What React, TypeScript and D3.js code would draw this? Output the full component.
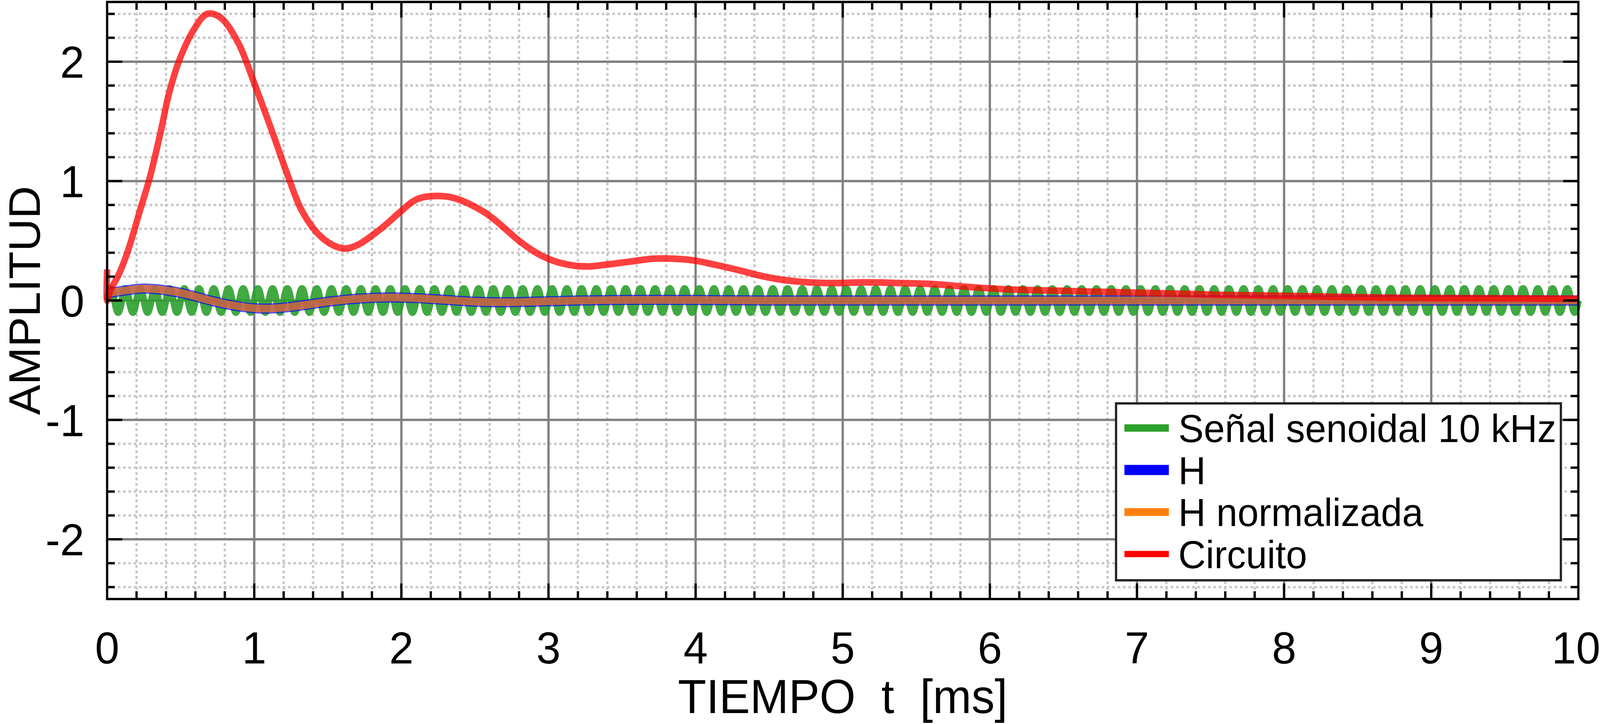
import React from 'react';
import * as d3 from 'd3';

// Tiempo [ms] / amplitud
const circuitT = [0, 0, 0.02, 0.08, 0.14, 0.22, 0.29, 0.36, 0.42, 0.49, 0.59, 0.68, 0.77, 0.89, 1.0, 1.12, 1.23, 1.32, 1.44, 1.54, 1.62, 1.71, 1.88, 1.99, 2.11, 2.27, 2.38, 2.55, 2.63, 2.72, 2.81, 2.93, 3.04, 3.16, 3.27, 3.39, 3.55, 3.71, 3.85, 3.99, 4.13, 4.29, 4.45, 4.61, 4.77, 4.93, 5.16, 5.39, 5.63, 5.86, 6.09, 6.52, 7.05, 7.58, 8.11, 8.64, 9.17, 10];
const circuitV = [0.26, 0.0, 0.08, 0.22, 0.41, 0.74, 1.03, 1.39, 1.73, 2.01, 2.27, 2.4, 2.37, 2.16, 1.82, 1.42, 1.04, 0.76, 0.55, 0.46, 0.435, 0.47, 0.62, 0.74, 0.85, 0.875, 0.85, 0.75, 0.68, 0.585, 0.49, 0.39, 0.33, 0.295, 0.285, 0.3, 0.325, 0.35, 0.35, 0.335, 0.3, 0.255, 0.205, 0.17, 0.152, 0.146, 0.152, 0.146, 0.136, 0.113, 0.095, 0.08, 0.064, 0.047, 0.037, 0.025, 0.02, 0.015];

const hT = [0, 0.1, 0.25, 0.4, 0.55, 0.7, 0.85, 1.0, 1.15, 1.3, 1.5, 1.7, 1.9, 2.1, 2.3, 2.5, 2.7, 2.9, 3.2, 3.6, 4.0, 4.5, 6, 8, 10];
const hV = [0.06, 0.08, 0.1, 0.085, 0.05, 0.0, -0.04, -0.065, -0.065, -0.045, -0.01, 0.015, 0.025, 0.02, 0.005, -0.01, -0.015, -0.01, 0.0, 0.005, 0.004, 0.0, 0.0, 0.0, 0.0];
const hNormV = hV;

// un periodo de la senoidal de 10 kHz (0.1 ms), repetido
const sineCycle = [0, 0.071, 0.1, 0.071, 0, -0.071, -0.1, -0.071];
const sinePeriod = 0.1;
const sineCycles = 100;

const xTicks = [0, 1, 2, 3, 4, 5, 6, 7, 8, 9, 10];
const yTicks = [-2, -1, 0, 1, 2];
const legendLabels = ['Señal senoidal 10 kHz', 'H', 'H normalizada', 'Circuito'];
const legendColors = ['#2ca02c', '#0000ff', '#ff7f0e', '#ff0000'];
const legendWidths = [19, 26, 20, 16];

const W = 4212;
const H = 1854;
const font = '"Liberation Sans", Arial, Helvetica, sans-serif';

export default function App() {
  const x = d3.scaleLinear().domain([0, 10]).range([282, 4155]);
  const y = d3.scaleLinear().domain([-2.5, 2.5]).range([1534, 5]);
  const [x0, x1] = x.range();
  const [y0, y1] = y.range();

  const minorX = d3.range(0, 50).map((i) => i * 0.2).filter((v) => Math.abs(v - Math.round(v)) > 1e-6);
  const minorY = d3.range(-12, 13).map((i) => i * 0.2).filter((v) => Math.abs(v - Math.round(v)) > 1e-6);

  const sine: [number, number][] = [];
  for (let c = 0; c < sineCycles; c++) {
    sineCycle.forEach((v, k) => sine.push([(c + k / sineCycle.length) * sinePeriod, v]));
  }
  sine.push([sineCycles * sinePeriod, sineCycle[0]]);

  const circuit = circuitT.map((t, i) => [t, circuitV[i]] as [number, number]);
  const hLine = hT.map((t, i) => [t, hV[i]] as [number, number]);
  const hNorm = hT.map((t, i) => [t, hNormV[i]] as [number, number]);

  const smooth = d3.line<[number, number]>().x((d) => x(d[0])).y((d) => y(d[1])).curve(d3.curveCatmullRom.alpha(0.5));
  const mono = d3.line<[number, number]>().x((d) => x(d[0])).y((d) => y(d[1])).curve(d3.curveMonotoneX);

  const tickMaj = 40;
  const tickMin = 20;

  return (
    <svg
      viewBox={`0 0 ${W} ${H}`}
      preserveAspectRatio="none"
      style={{ position: 'fixed', left: 0, top: 0, width: '100vw', height: '100vh', background: '#fff' }}
      fontFamily={font}
    >
      <rect x={0} y={0} width={W} height={H} fill="#fff" />
      {/* rejilla menor */}
      <g stroke="#c8c8c8" strokeWidth={6} strokeDasharray="7 7">
        {minorX.map((v) => (
          <line key={'mx' + v} x1={x(v)} x2={x(v)} y1={y1} y2={y0} />
        ))}
        {minorY.map((v) => (
          <line key={'my' + v} x1={x0} x2={x1} y1={y(v)} y2={y(v)} />
        ))}
      </g>
      {/* rejilla mayor */}
      <g stroke="#808080" strokeWidth={6}>
        {xTicks.slice(1, -1).map((v) => (
          <line key={'gx' + v} x1={x(v)} x2={x(v)} y1={y1} y2={y0} />
        ))}
        {yTicks.map((v) => (
          <line key={'gy' + v} x1={x0} x2={x1} y1={y(v)} y2={y(v)} />
        ))}
      </g>

      {/* series */}
      <path d={mono(sine)!} fill="none" stroke="#2ca02c" strokeWidth={18} strokeLinejoin="round" opacity={0.9} />
      <path d={smooth(hLine)!} fill="none" stroke="#0000ff" strokeWidth={26} strokeLinejoin="round" opacity={0.7} />
      <path d={smooth(hNorm)!} fill="none" stroke="#ff7f0e" strokeWidth={20} strokeLinejoin="round" opacity={0.7} />
      <path d={smooth(circuit)!} fill="none" stroke="#ff0000" strokeWidth={17} strokeLinejoin="round" opacity={0.75} />

      {/* marcas */}
      <g stroke="#000" strokeWidth={6}>
        {xTicks.slice(1, -1).map((v) => (
          <g key={'tx' + v}>
            <line x1={x(v)} x2={x(v)} y1={y0} y2={y0 - tickMaj} />
            <line x1={x(v)} x2={x(v)} y1={y1} y2={y1 + tickMaj} />
          </g>
        ))}
        {minorX.map((v) => (
          <g key={'tmx' + v}>
            <line x1={x(v)} x2={x(v)} y1={y0} y2={y0 - tickMin} />
            <line x1={x(v)} x2={x(v)} y1={y1} y2={y1 + tickMin} />
          </g>
        ))}
        {yTicks.map((v) => (
          <g key={'ty' + v}>
            <line x1={x0} x2={x0 + tickMaj} y1={y(v)} y2={y(v)} />
            <line x1={x1} x2={x1 - tickMaj} y1={y(v)} y2={y(v)} />
          </g>
        ))}
        {minorY.map((v) => (
          <g key={'tmy' + v}>
            <line x1={x0} x2={x0 + tickMin} y1={y(v)} y2={y(v)} />
            <line x1={x1} x2={x1 - tickMin} y1={y(v)} y2={y(v)} />
          </g>
        ))}
      </g>
      <rect x={x0} y={y1} width={x1 - x0} height={y0 - y1} fill="none" stroke="#000" strokeWidth={6} />

      {/* etiquetas */}
      <g fontSize={115} fill="#000">
        {xTicks.map((v, i) => (
          <text key={'lx' + v} x={x(v) - (i === xTicks.length - 1 ? 6 : 0)} y={1699} textAnchor="middle">
            {String(v)}
          </text>
        ))}
        {yTicks.map((v) => (
          <text key={'ly' + v} x={222} y={y(v)} dy="0.36em" textAnchor="end">
            {String(v)}
          </text>
        ))}
      </g>
      <text x={(x0 + x1) / 2} y={1826} fontSize={122} textAnchor="middle" style={{ whiteSpace: 'pre' }}>
        {'TIEMPO  t  [ms]'}
      </text>
      <text transform={`translate(105,${y(0)}) rotate(-90)`} fontSize={116} textAnchor="middle">
        AMPLITUD
      </text>

      {/* leyenda */}
      <g>
        <rect x={2938} y={1033} width={1171} height={453} fill="#fff" stroke="#262626" strokeWidth={6} />
        {legendLabels.map((label, i) => {
          const cy = 1096 + i * 107.6;
          return (
            <g key={label}>
              <line x1={2960} x2={3077} y1={cy} y2={cy} stroke={legendColors[i]} strokeWidth={legendWidths[i]} />
              <text x={3102} y={cy + 36} fontSize={100}>
                {label}
              </text>
            </g>
          );
        })}
      </g>
    </svg>
  );
}
